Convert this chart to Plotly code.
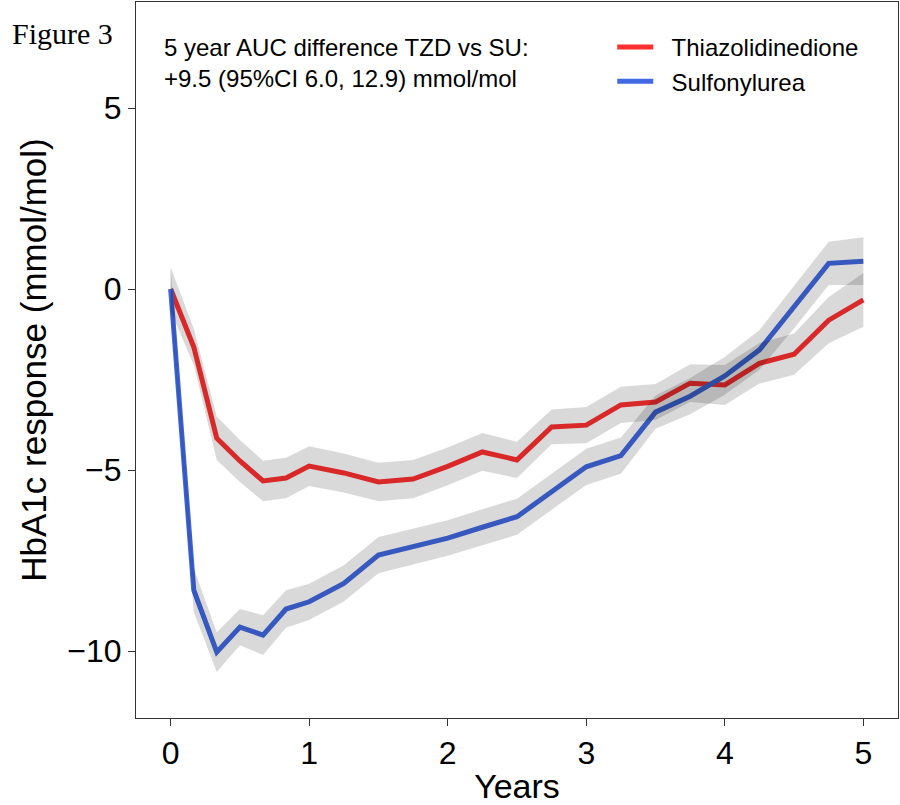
import plotly.graph_objects as go

# ---- data ----
years = [0, 0.167, 0.333, 0.5, 0.667, 0.833, 1.0, 1.25, 1.5, 1.75, 2.0, 2.25, 2.5,
         2.75, 3.0, 3.25, 3.5, 3.75, 4.0, 4.25, 4.5, 4.75, 5.0]

tzd_mean = [0, -1.6, -4.12, -4.75, -5.3, -5.22, -4.89, -5.08, -5.33, -5.25, -4.9, -4.5, -4.72,
            -3.81, -3.76, -3.2, -3.12, -2.6, -2.65, -2.05, -1.8, -0.86, -0.3]
tzd_halfci = [0.6, 0.5, 0.6, 0.58, 0.56, 0.56, 0.55, 0.54, 0.53, 0.53, 0.52, 0.52, 0.5,
              0.48, 0.5, 0.5, 0.5, 0.52, 0.55, 0.56, 0.57, 0.64, 0.74]

su_mean = [0, -8.32, -10.03, -9.34, -9.56, -8.84, -8.64, -8.13, -7.35, -7.12, -6.88, -6.58, -6.29,
           -5.6, -4.91, -4.6, -3.4, -2.96, -2.4, -1.68, -0.5, 0.71, 0.77]
su_halfci = [0.6, 0.6, 0.55, 0.5, 0.55, 0.52, 0.5, 0.5, 0.5, 0.49, 0.49, 0.5, 0.5,
             0.5, 0.5, 0.5, 0.46, 0.5, 0.52, 0.55, 0.58, 0.6, 0.66]

series_names = ["Thiazolidinedione", "Sulfonylurea"]
series_colors = ["#FF3030", "#4169E1"]

x_ticks = [0, 1, 2, 3, 4, 5]
y_ticks = [5, 0, -5, -10]

annotation_text = "5 year AUC difference TZD vs SU:<br>+9.5 (95%CI 6.0, 12.9) mmol/mol"

# ---- figure ----
FONT = "Liberation Sans, Arial, sans-serif"
fig = go.Figure()

means = [tzd_mean, su_mean]
halfs = [tzd_halfci, su_halfci]

# lines first (legend text padded with non-breaking spaces for the key gap)
for name, col, m in zip(series_names, series_colors, means):
    fig.add_trace(go.Scatter(x=years, y=m, mode="lines", name="\u00a0\u00a0" + name,
                             line=dict(color=col, width=5)))

# translucent ribbons drawn on top of the lines
for m, h in zip(means, halfs):
    lo = [a - b for a, b in zip(m, h)]
    hi = [a + b for a, b in zip(m, h)]
    fig.add_trace(go.Scatter(x=years + years[::-1], y=hi + lo[::-1], mode="lines",
                             fill="toself", fillcolor="rgba(0,0,0,0.15)",
                             line=dict(width=0, color="rgba(0,0,0,0)"),
                             showlegend=False, hoverinfo="skip"))

axis_common = dict(showline=True, linecolor="#333333", linewidth=1, mirror=True,
                   showgrid=False, zeroline=False, ticks="outside", ticklen=7,
                   tickcolor="#333333", tickwidth=1,
                   tickfont=dict(family=FONT, size=32, color="black"))

fig.update_xaxes(range=[-0.25, 5.25], tickvals=x_ticks,
                 title=dict(text="Years", font=dict(family=FONT, size=34, color="black"),
                            standoff=4),
                 **axis_common)
fig.update_yaxes(range=[-11.85, 7.93], tickvals=y_ticks,
                 title=dict(text="HbA1c response (mmol/mol)",
                            font=dict(family=FONT, size=35, color="black"), standoff=10),
                 **axis_common)

fig.add_annotation(xref="paper", yref="paper", x=0.034, y=0.958, xanchor="left", yanchor="top",
                   text=annotation_text, align="left", showarrow=False,
                   font=dict(family=FONT, size=24, color="black"))

fig.add_annotation(xref="paper", yref="paper", x=-0.166, y=0.982, xanchor="left", yanchor="top",
                   text="Figure 3", showarrow=False,
                   font=dict(family="Liberation Serif, Times New Roman, serif", size=30, color="black"))

fig.update_layout(
    width=900, height=805,
    margin=dict(l=136, r=2, t=2, b=87),
    paper_bgcolor="white", plot_bgcolor="white",
    legend=dict(x=0.625, y=0.968, xanchor="left", yanchor="top",
                font=dict(family=FONT, size=24, color="black"),
                bgcolor="rgba(0,0,0,0)", itemwidth=36, tracegroupgap=0),
    font=dict(family=FONT, color="black"),
)

fig.write_html("out.html")
